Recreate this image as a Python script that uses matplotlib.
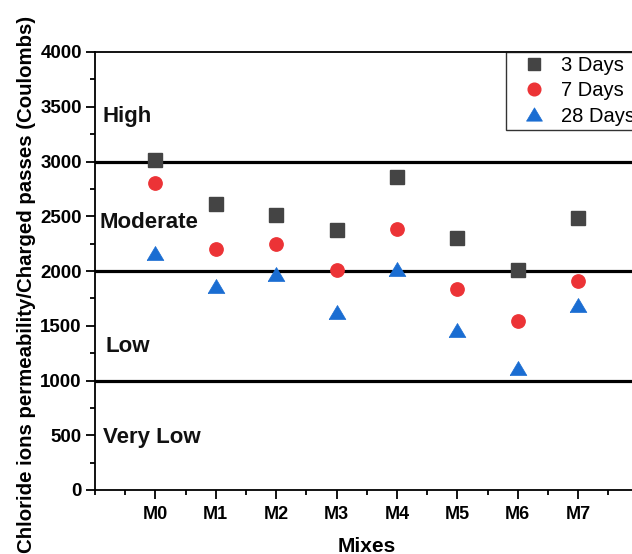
import matplotlib
matplotlib.use("Agg")
import matplotlib.pyplot as plt
from matplotlib.ticker import MultipleLocator

plt.rcParams['font.family'] = ['Liberation Sans', 'DejaVu Sans']

mixes = ["M0", "M1", "M2", "M3", "M4", "M5", "M6", "M7"]
days3 = [3010, 2610, 2510, 2375, 2860, 2305, 2010, 2480]
days7 = [2800, 2200, 2245, 2010, 2380, 1835, 1540, 1910]
days28 = [2160, 1860, 1970, 1630, 2020, 1465, 1115, 1690]
limits = [1000, 2000, 3000]
zone_names = ["High", "Moderate", "Low", "Very Low"]
zone_text_y = [3363, 2395, 1263, 426]
zone_text_x = [0.13, 0.08, 0.18, 0.125]

W, H = 632, 554
fig = plt.figure(figsize=(W / 100, H / 100), dpi=100)
ax = fig.add_axes([95 / W, (H - 490) / H, 543.6 / W, 438 / H])

x = list(range(1, len(mixes) + 1))

for v in limits:
    ax.axhline(v, color="black", lw=2.3, zorder=1)

# slightly squat triangle marker
tri = [(-1.0, -0.84), (1.0, -0.84), (0.0, 0.84), (-1.0, -0.84)]

h1, = ax.plot(x, days3, ls="none", marker="s", ms=9.5, color="#444444",
              mec="#444444", label="3 Days", zorder=3)
h2, = ax.plot(x, days7, ls="none", marker="o", ms=9.6, color="#ec3336",
              mec="#ec3336", label="7 Days", zorder=3)
h3, = ax.plot(x, days28, ls="none", marker=tri, ms=12, color="#1a6dd2",
              mec="#1a6dd2", mew=0.5, label="28 Days", zorder=3)

for name, xv, yv in zip(zone_names, zone_text_x, zone_text_y):
    ax.text(xv, yv, name, fontsize=16, fontweight="bold", va="baseline",
            ha="left", color="#111111")

ax.set_xlim(0, 9)
ax.set_ylim(0, 4000)
ax.set_xticks(x)
ax.set_xticklabels(mixes)
ax.xaxis.set_minor_locator(MultipleLocator(0.5))
ax.yaxis.set_major_locator(MultipleLocator(500))
ax.yaxis.set_minor_locator(MultipleLocator(250))

ax.tick_params(axis="both", which="major", direction="out", length=6.5,
               width=1.3, pad=3)
ax.tick_params(axis="both", which="minor", direction="out", length=3.5,
               width=1.3)
ax.tick_params(axis="y", which="major", labelsize=13.5)
ax.tick_params(axis="x", which="major", labelsize=13, pad=5)
for lab in ax.get_xticklabels() + ax.get_yticklabels():
    lab.set_fontweight("bold")

for s in ax.spines.values():
    s.set_linewidth(1.3)

fig.text(367 / W, 1.5 / H, "Mixes", fontsize=15, fontweight="bold",
         ha="center", va="baseline")
fig.text(32 / W, 1 - 284 / H,
         "Chloride ions permeability/Charged passes (Coulombs)",
         fontsize=14.7, fontweight="bold", rotation=90,
         rotation_mode="anchor", ha="center", va="baseline")

leg = fig.legend(handles=[h1, h2, h3], loc="upper left",
                 bbox_to_anchor=(506 / W, 1 - 52 / H), fontsize=14.5,
                 frameon=True, fancybox=False, borderaxespad=0,
                 handletextpad=0.15, labelspacing=0.3, borderpad=0.22,
                 handlelength=2.36, markerscale=0.95)
leg.get_frame().set_edgecolor("black")
leg.get_frame().set_linewidth(1.0)

fig.savefig("out.png", dpi=100)
